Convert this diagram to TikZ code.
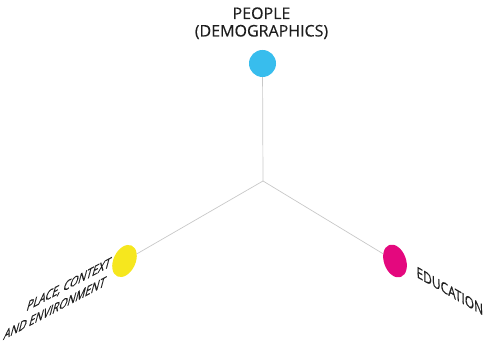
\documentclass[tikz,border=0pt]{standalone}
\usepackage{fontspec}
\setmainfont{Open Sans}
\newfontfamily\sideheavy{Open Sans}[FakeBold=0.5]
\newfontfamily\topheavy{Open Sans}[FakeBold=0.2]
\usetikzlibrary{shapes.geometric}
\definecolor{peopleblue}{RGB}{56,189,237}
\definecolor{placeyellow}{RGB}{246,231,30}
\definecolor{edumagenta}{RGB}{228,8,126}
\definecolor{axisgray}{RGB}{200,200,200}
\definecolor{labelgray}{RGB}{30,30,30}
\tikzset{
  axisline/.style={draw=axisgray, line width=0.7pt},
  dot/.style={circle, inner sep=0pt, minimum size=27pt},
  flatdot/.style={ellipse, inner sep=0pt, minimum width=22pt, minimum height=34pt},
  toplabel/.style={font=\topheavy\fontsize{16}{17.5}\selectfont, text=labelgray, inner sep=0pt},
  sidelabel/.style={text=labelgray, inner sep=0pt, transform shape}
}
\begin{document}
\begin{tikzpicture}[x=1pt,y=1pt]
\useasboundingbox (0,0) rectangle (485,347);
\coordinate (C) at (263,166);
\node[dot, fill=peopleblue] (P) at (262.5,283.5) {};
\node[flatdot, fill=placeyellow, rotate=-25] (Y) at (124.5,86) {};
\node[flatdot, fill=edumagenta, rotate=20] (M) at (395,86) {};
\draw[axisline] (C) -- (P);
\draw[axisline] (C) -- (Y);
\draw[axisline] (C) -- (M);
\node[toplabel, anchor=base] (t1) at (261.5,328) {PEOPLE};
\node[toplabel, anchor=base] (t2) at (261.5,310.5) {(DEMOGRAPHICS)};
\begin{scope}[shift={(109.5,80)}, cm={0.883,0.469,0.32,1.19,(0,0)}]
  \node[sidelabel, font=\sideheavy\fontsize{12.1}{14}\selectfont, anchor=base east] (l1) at (0,0) {PLACE, CONTEXT};
  \node[sidelabel, font=\sideheavy\fontsize{12.1}{14}\selectfont, anchor=base east] (l2) at (0,-16.2) {AND ENVIRONMENT};
\end{scope}
\begin{scope}[shift={(416.5,70)}, cm={0.866,-0.5,-0.03,1.1,(0,0)}]
  \node[sidelabel, font=\sideheavy\fontsize{13.8}{15}\selectfont, anchor=base west] (e1) at (0,0) {EDUCATION};
\end{scope}
\end{tikzpicture}
\end{document}
